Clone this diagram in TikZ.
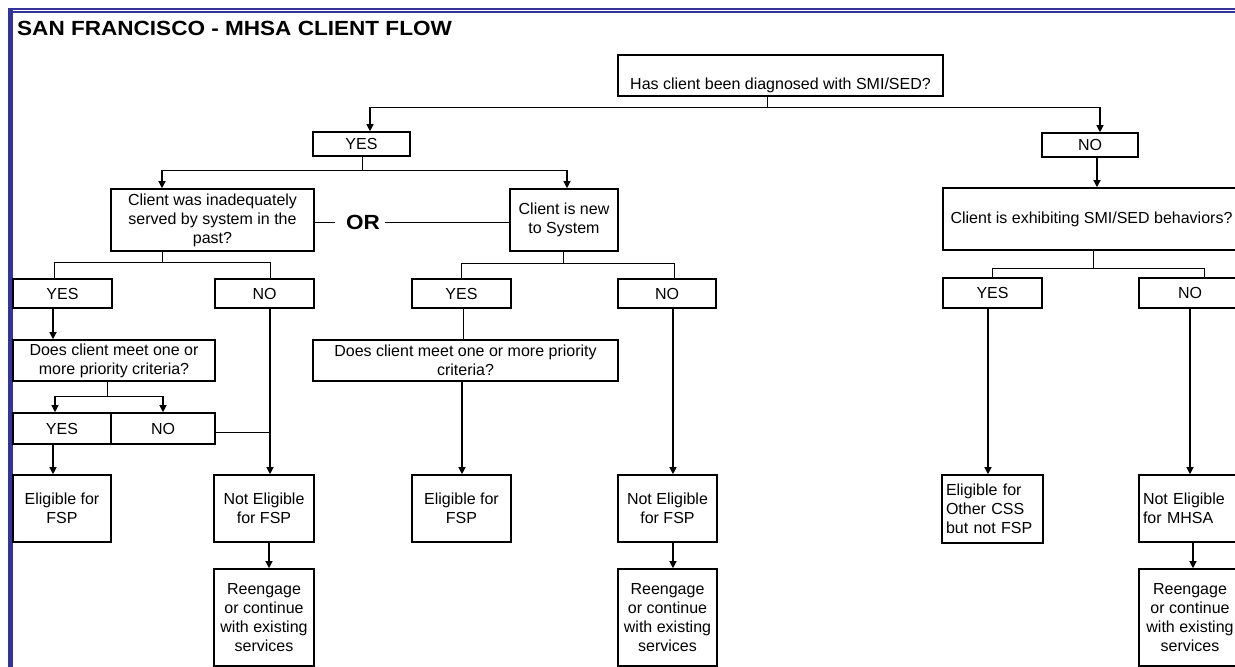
\documentclass[tikz,border=0pt]{standalone}
\usepackage{fontspec}
\usepackage{graphicx}
\setmainfont{Liberation Sans}
\usetikzlibrary{arrows.meta,calc}
\definecolor{frameblue}{RGB}{51,51,153}
\newcommand{\widetxt}[1]{\scalebox{1.1}[1]{#1}}
\begin{document}
\begin{tikzpicture}[x=1pt,y=-1pt,
  box/.style={draw, line width=1.6pt, inner sep=0pt, align=center, font=\fontsize{16}{19}\selectfont},
  lbox/.style={box, align=left, inner xsep=4pt},
  conn/.style={line width=1pt},
  arr/.style={line width=1.2pt, -{Triangle[width=7pt,length=7pt]}},
  bigbold/.style={font=\bfseries\fontsize{20.5}{24}\selectfont, inner sep=0pt}]
\useasboundingbox (0,0) rectangle (1235,667);
% frame
\draw[frameblue, line width=4.2pt] (10.4,667) -- (10.4,8.3);
\draw[frameblue, line width=2pt] (8.3,9.3) -- (1235,9.3);
\draw[frameblue, line width=1.4pt] (12,12) -- (1235,12);
% title
\node[bigbold, anchor=base west] (title) at (17,35) {\widetxt{SAN FRANCISCO - MHSA CLIENT FLOW}};
% boxes
\node[box, minimum width=325pt, minimum height=41pt] (q1) at (780.5,75.5) {\strut\\Has client been diagnosed with SMI/SED?};
\node[box, minimum width=97pt, minimum height=24pt] (yes1) at (361.5,144) {YES};
\node[box, minimum width=96pt, minimum height=24pt] (no1) at (1090,145) {NO};
\node[box, minimum width=203pt, minimum height=62pt] (q2a) at (212.5,220) {Client was inadequately\\served by system in the\\past?};
\node[box, minimum width=108pt, minimum height=62pt] (q2b) at (564,220) {Client is new\\to System};
\node[box, minimum width=297pt, minimum height=62pt] (q2c) at (1091.5,219) {Client is exhibiting SMI/SED behaviors?};
\node[box, minimum width=99pt, minimum height=29pt] (yesA) at (62.5,293.5) {YES};
\node[box, minimum width=99pt, minimum height=29pt] (noA) at (264.5,293.5) {NO};
\node[box, minimum width=99pt, minimum height=29pt] (yesB) at (461.5,293.5) {YES};
\node[box, minimum width=98pt, minimum height=29pt] (noB) at (667,293.5) {NO};
\node[box, minimum width=99pt, minimum height=30pt] (yesC) at (992.5,293) {YES};
\node[box, minimum width=102pt, minimum height=30pt] (noC) at (1190,293) {NO};
\node[box, minimum width=202pt, minimum height=41pt] (q3a) at (114,360.5) {Does client meet one or\\more priority criteria?};
\node[box, minimum width=305pt, minimum height=41pt] (q3b) at (465.5,360.5) {Does client meet one or more priority\\criteria?};
\node[box, minimum width=98pt, minimum height=31pt] (yesA2) at (62,428.5) {YES};
\node[box, minimum width=104pt, minimum height=31pt] (noA2) at (163,428.5) {NO};
\node[box, minimum width=98pt, minimum height=67pt] (eA) at (62,508.5) {Eligible for\\FSP};
\node[box, minimum width=100pt, minimum height=67pt] (neA) at (264,508.5) {Not Eligible\\for FSP};
\node[box, minimum width=100pt, minimum height=97pt] (rA) at (264,617.5) {Reengage\\or continue\\with existing\\services};
\node[box, minimum width=99pt, minimum height=67pt] (eB) at (461.5,508.5) {Eligible for\\FSP};
\node[box, minimum width=99pt, minimum height=67pt] (neB) at (667.5,508.5) {Not Eligible\\for FSP};
\node[box, minimum width=99pt, minimum height=97pt] (rB) at (667.5,617.5) {Reengage\\or continue\\with existing\\services};
\node[lbox, text width=93pt, minimum height=68pt] (eC) at (992.5,509) {Eligible for\\Other CSS\\but not FSP};
\node[lbox, text width=94pt, minimum height=67pt] (neC) at (1190,508.5) {Not Eligible\\for MHSA};
\node[box, minimum width=102pt, minimum height=97pt] (rC) at (1190,617.5) {Reengage\\or continue\\with existing\\services};
% OR
\node[bigbold] (or) at (363,222) {\widetxt{OR}};
\coordinate (o1) at (335,222);
\coordinate (o2) at (385,222);
\draw[conn] (q2a.east |- o1) -- (o1);
\draw[conn] (o2) -- (q2b.west |- o2);
% q1 split
\coordinate (t0) at (767,107);
\coordinate (t1) at (370,107);
\coordinate (t2) at (1100,107);
\draw[conn] (q1.south -| t0) -- (t0);
\draw[conn] (t1) -- (t2);
\draw[arr] (t1) -- (t1 |- yes1.north);
\draw[arr] (t2) -- (t2 |- no1.north);
% yes1 split
\coordinate (u0) at (362,170);
\coordinate (u1) at (162,170);
\coordinate (u2) at (567,170);
\draw[conn] (yes1.south -| u0) -- (u0);
\draw[conn] (u1) -- (u2);
\draw[arr] (u1) -- (u1 |- q2a.north);
\draw[arr] (u2) -- (u2 |- q2b.north);
% no1 -> q2c
\coordinate (n0) at (1097,160);
\draw[arr] (no1.south -| n0) -- (n0 |- q2c.north);
% q2a split
\coordinate (a0) at (162,262);
\coordinate (a1) at (54,262);
\coordinate (a2) at (270,262);
\draw[conn] (q2a.south -| a0) -- (a0);
\draw[conn] (a1) -- (a2);
\draw[conn] (a1) -- (a1 |- yesA.north);
\draw[conn] (a2) -- (a2 |- noA.north);
% q2b split
\coordinate (b0) at (563,263);
\coordinate (b1) at (461,263);
\coordinate (b2) at (674,263);
\draw[conn] (q2b.south -| b0) -- (b0);
\draw[conn] (b1) -- (b2);
\draw[conn] (b1) -- (b1 |- yesB.north);
\draw[conn] (b2) -- (b2 |- noB.north);
% q2c split
\coordinate (c0) at (1093,268);
\coordinate (c1) at (992,268);
\coordinate (c2) at (1204,268);
\draw[conn] (q2c.south -| c0) -- (c0);
\draw[conn] (c1) -- (c2);
\draw[conn] (c1) -- (c1 |- yesC.north);
\draw[conn] (c2) -- (c2 |- noC.north);
% left branch
\coordinate (l0) at (53,320);
\draw[arr] (yesA.south -| l0) -- (l0 |- q3a.north);
\coordinate (d0) at (107,396);
\coordinate (d1) at (55,396);
\coordinate (d2) at (163,396);
\draw[conn] (q3a.south -| d0) -- (d0);
\draw[conn] (d1) -- (d2);
\draw[arr] (d1) -- (d1 |- yesA2.north);
\draw[arr] (d2) -- (d2 |- noA2.north);
\coordinate (m0) at (270,432);
\draw[conn] (noA2.east |- m0) -- (m0);
\draw[arr] (noA.south -| m0) -- (m0 |- neA.north);
\draw[arr] (yesA2.south -| l0) -- (l0 |- eA.north);
\coordinate (m1) at (269,555);
\draw[arr] (neA.south -| m1) -- (m1 |- rA.north);
% middle branch
\coordinate (k0) at (463,320);
\draw[conn] (yesB.south -| k0) -- (k0 |- q3b.north);
\coordinate (k1) at (462,420);
\draw[arr] (q3b.south -| k1) -- (k1 |- eB.north);
\coordinate (k2) at (673,420);
\draw[arr] (noB.south -| k2) -- (k2 |- neB.north);
\draw[arr] (neB.south -| k2) -- (k2 |- rB.north);
% right branch
\coordinate (r0) at (988,420);
\draw[arr] (yesC.south -| r0) -- (r0 |- eC.north);
\coordinate (r1) at (1190,420);
\draw[arr] (noC.south -| r1) -- (r1 |- neC.north);
\coordinate (r2) at (1193,555);
\draw[arr] (neC.south -| r2) -- (r2 |- rC.north);
\end{tikzpicture}
\end{document}
